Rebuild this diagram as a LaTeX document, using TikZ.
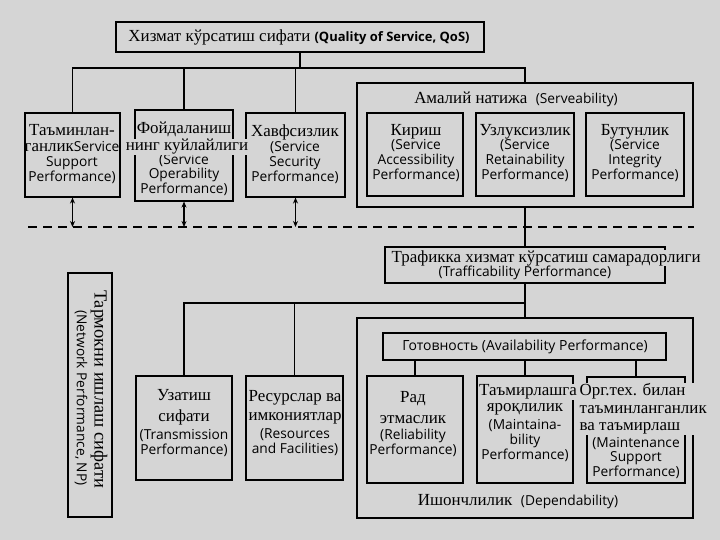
\documentclass[tikz,border=0pt]{standalone}
\usepackage{fontspec}
\setmainfont{Liberation Serif}
\newfontfamily\enfont{Open Sans}
\usetikzlibrary{arrows.meta}
\definecolor{bg}{RGB}{213,213,213}
\newcommand\en[1]{{\enfont\fontsize{13.8}{14.5}\selectfont #1}}
\tikzset{
  box/.style={draw, line width=1.1bp, inner sep=0pt, rectangle},
  txt/.style={inner sep=0pt, align=center, font=\fontsize{17}{15}\selectfont},
  link/.style={line width=1.1bp},
  dashline/.style={line width=1.3bp, dash pattern=on 9bp off 6bp},
  arr/.style={line width=1.1bp, {Stealth[length=6bp,width=5bp]}-{Stealth[length=6bp,width=5bp]}},
  cover/.style={fill=bg, inner sep=0.5bp}
}
\begin{document}
\begin{tikzpicture}[x=1bp,y=-1bp]
\fill[bg] (0,0) rectangle (720,540);
\useasboundingbox (0,0) rectangle (720,540);

% boxes
\node[box, minimum width=368bp, minimum height=30bp] (top) at (300,37) {};
\node[box, minimum width=95bp, minimum height=84bp] (A) at (72.5,155) {};
\node[box, minimum width=98bp, minimum height=91bp] (B) at (184,155.5) {};
\node[box, minimum width=99bp, minimum height=84bp] (C) at (295.5,155) {};
\node[box, minimum width=336bp, minimum height=124bp] (S) at (525,145) {};
\node[box, minimum width=96bp, minimum height=83bp] (S1) at (415,154.5) {};
\node[box, minimum width=98bp, minimum height=83bp] (S2) at (525,154.5) {};
\node[box, minimum width=98bp, minimum height=83bp] (S3) at (635,154.5) {};
\node[box, minimum width=280bp, minimum height=36bp] (T) at (525,265) {};
\node[box, minimum width=44bp, minimum height=244bp] (NP) at (90,395) {};
\node[box, minimum width=96bp, minimum height=104bp] (U) at (184,428) {};
\node[box, minimum width=97bp, minimum height=104bp] (R) at (294.5,428) {};
\node[box, minimum width=336bp, minimum height=200bp] (D) at (525,418) {};
\node[box, minimum width=283bp, minimum height=27bp] (G) at (524.5,346.5) {};
\node[box, minimum width=96bp, minimum height=107bp] (D1) at (415,429.5) {};
\node[box, minimum width=96bp, minimum height=107bp] (D2) at (525,429.5) {};
\node[box, minimum width=98bp, minimum height=106bp] (D3) at (636,430) {};

% connectors
\coordinate (j1) at (300,68);
\coordinate (j2) at (525,303);
\draw[link] (top.south) -- (j1);
\draw[link] (A.north) |- (j1) -| (S.north);
\draw[link] (B.north) -- (B.north |- j1);
\draw[link] (C.north) -- (C.north |- j1);
\draw[link] (S.south) -- (T.north);
\draw[link] (T.south) -- (D.north);
\draw[link] (U.north) |- (j2);
\draw[link] (R.north) -- (R.north |- j2);
\draw[link] (D1.north |- G.south) -- (D1.north);
\draw[link] (D2.north |- G.south) -- (D2.north);
\draw[link] (D3.north |- G.south) -- (D3.north);

\coordinate (dl) at (28,227);
\coordinate (dr) at (694,227);
\draw[dashline] (dl) -- (dr);
\draw[arr] (A.south) -- (A.south |- dl);
\draw[arr] (B.south) -- (B.south |- dl);
\draw[arr] (C.south) -- (C.south |- dl);

% texts
\node[txt] (tTop) at (299,37) {Хизмат кўрсатиш сифати {\enfont\bfseries\fontsize{13}{14}\selectfont (Quality of Service, QoS)}};
\node[txt] (tA) at (72,154) {Таъминлан-\\[2pt]ганлик\en{Service}\\\en{Support}\\\en{Performance)}};
\node[txt] (tB1) at (184,129.5) {Фойдаланиш};
\node[txt] (tB3) at (184,175) {\en{(Service}\\\en{Operability}\\\en{Performance)}};
\node[txt, cover] (tB2) at (187,147) {нинг куйлайлиги};
\node[txt] (tC) at (295,154) {Хавфсизлик\\\en{(Service}\\\en{Security}\\\en{Performance)}};
\node[txt] (tS) at (516,99) {Амалий натижа\ \ \en{(Serveability)}};
\node[txt] (tS1) at (416,153) {Кириш\\\en{(Service}\\\en{Accessibility}\\\en{Performance)}};
\node[txt] (tS2) at (525,153) {Узлуксизлик\\\en{(Service}\\\en{Retainability}\\\en{Performance)}};
\node[txt] (tS3) at (635,153) {Бутунлик\\\en{(Service}\\\en{Integrity}\\\en{Performance)}};
\node[txt, cover, anchor=west] (tT1) at (391,258) {Трафикка хизмат кўрсатиш самарадорлиги};
\node[txt] (tT2) at (525,273) {\en{(Trafficability Performance)}};
\node[txt, rotate=-90] (tNP1) at (99,389) {\fontsize{18.5}{18}\selectfont Тармокни ишлаш сифати};
\node[txt, rotate=-90] (tNP2) at (81,398) {\en{(Network Performance, NP)}};
\node[txt] (tU) at (184,423) {Узатиш\\[6pt]сифати\\[3pt]\en{(Transmission}\\\en{Performance)}};
\node[txt] (tR) at (295,423) {Ресурслар ва\\[5pt]имкониятлар\\[3pt]\en{(Resources}\\\en{and Facilities)}};
\node[txt] (tG) at (525,346.5) {{\enfont\fontsize{14}{14}\selectfont Готовность (Availability Performance)}};
\node[txt] (tD1) at (413,424) {Рад\\[6pt]этмаслик\\[1pt]\en{(Reliability}\\\en{Performance)}};
\node[txt] (tD2b) at (525,433) {яроқлилик\\[3pt]\en{(Maintaina-}\\\en{bility}\\\en{Performance)}};
\node[txt, cover] (tD2a) at (528,392) {Таъмирлашга};
\node[txt] (tD3b) at (636,458) {\en{(Maintenance}\\\en{Support}\\\en{Performance)}};
\node[txt, cover, anchor=west, align=left] (tD3a) at (579,409) {Орг.тех. билан\\[3pt]таъминланганлик\\[2pt]ва таъмирлаш};
\node[txt] (tDep) at (518,502) {Ишончлилик\ \ \en{(Dependability)}};
\end{tikzpicture}
\end{document}
